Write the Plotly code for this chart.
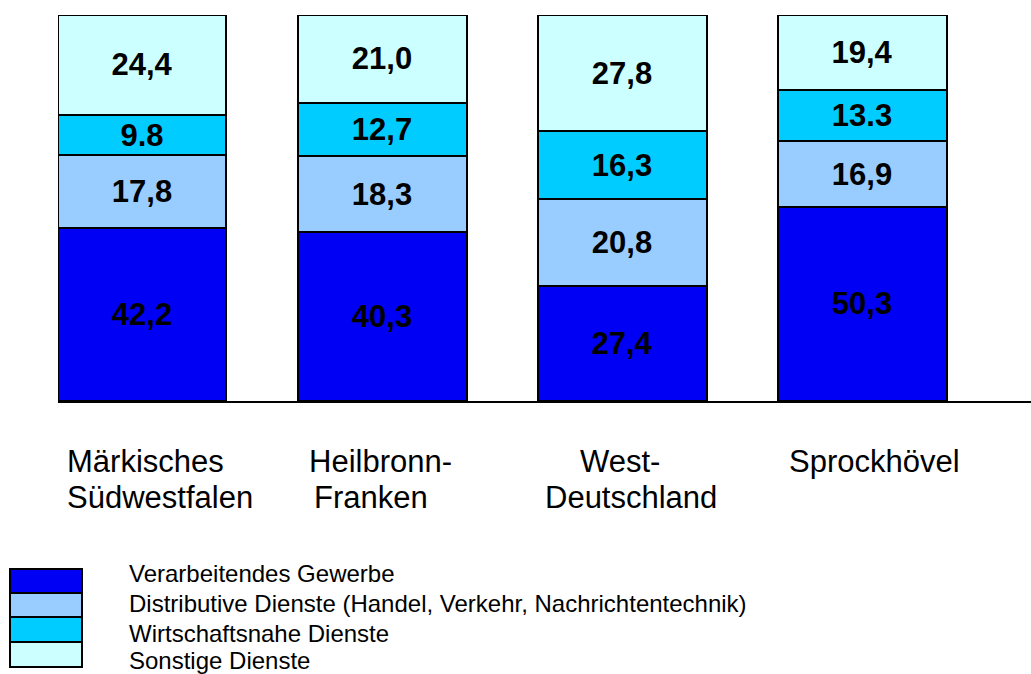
import plotly.graph_objects as go

# ---------------- data ----------------
categories = ["Märkisches Südwestfalen", "Heilbronn-Franken", "West-Deutschland", "Sprockhövel"]
category_lines = [["Märkisches", "Südwestfalen"], ["Heilbronn-", "Franken"],
                  ["West-", "Deutschland"], ["Sprockhövel"]]

series_names = [
    "Verarbeitendes Gewerbe",
    "Distributive Dienste (Handel, Verkehr, Nachrichtentechnik)",
    "Wirtschaftsnahe Dienste",
    "Sonstige Dienste",
]
verarbeitendes = [42.2, 40.3, 27.4, 50.3]
distributive = [17.8, 18.3, 20.8, 16.9]
wirtschaftsnahe = [9.8, 12.7, 16.3, 13.3]
sonstige = [24.4, 21.0, 27.8, 19.4]

labels_verarbeitendes = ["42,2", "40,3", "27,4", "50,3"]
labels_distributive = ["17,8", "18,3", "20,8", "16,9"]
labels_wirtschaftsnahe = ["9.8", "12,7", "16,3", "13.3"]
labels_sonstige = ["24,4", "21,0", "27,8", "19,4"]

colors = ["#0000F5", "#99CCFF", "#00CCFF", "#CCFFFF"]

# ---------------- figure ----------------
W, H = 1031, 674
ML, MR, MT, MB = 58, 0, 15, 273
PW, PH = W - ML - MR, H - MT - MB
FONT = "Liberation Sans, Arial, sans-serif"

fig = go.Figure()
for name, vals, labs, col in zip(
        series_names,
        [verarbeitendes, distributive, wirtschaftsnahe, sonstige],
        [labels_verarbeitendes, labels_distributive, labels_wirtschaftsnahe, labels_sonstige],
        colors):
    fig.add_trace(go.Bar(
        x=categories, y=vals, name=name, text=labs,
        texttemplate="%{text}", textposition="inside", insidetextanchor="middle",
        constraintext="none", textangle=0,
        textfont=dict(family=FONT, size=31, color="black", weight="bold"),
        marker=dict(color=col, line=dict(color="black", width=2)),
        width=0.704, hoverinfo="skip",
    ))


def px_x(p):
    return (p - ML) / PW


def px_y(p):
    return (H - MB - p) / PH


# category labels (left edges in px per line)
line_left = [[65, 65], [307, 312], [578, 543], [787]]
line_center_y = [461, 497]
annotations = []
for lines, lefts in zip(category_lines, line_left):
    for j, (txt, lx) in enumerate(zip(lines, lefts)):
        annotations.append(dict(
            text=txt, xref="paper", yref="paper", x=px_x(lx), y=px_y(line_center_y[j]),
            xanchor="left", yanchor="middle", showarrow=False,
            font=dict(family=FONT, size=31, color="black")))

# custom legend
box_edges = [569, 593, 617, 642, 667]
text_y = [573, 603, 633, 660]
shapes = []
for i, (name, col) in enumerate(zip(series_names, colors)):
    shapes.append(dict(type="rect", xref="paper", yref="paper",
                       x0=px_x(10), x1=px_x(82), y0=px_y(box_edges[i + 1]), y1=px_y(box_edges[i]),
                       fillcolor=col, line=dict(color="black", width=2)))
    annotations.append(dict(
        text=name, xref="paper", yref="paper", x=px_x(127), y=px_y(text_y[i]),
        xanchor="left", yanchor="middle", showarrow=False,
        font=dict(family=FONT, size=24, color="black")))

fig.update_layout(
    barmode="stack", barnorm="percent",
    width=W, height=H,
    margin=dict(l=ML, r=MR, t=MT, b=MB, pad=0),
    paper_bgcolor="white", plot_bgcolor="white",
    showlegend=False,
    font=dict(family=FONT, color="black"),
    xaxis=dict(range=[-0.35, 3.704], showticklabels=False, ticks="", showgrid=False,
               showline=True, linecolor="black", linewidth=2, zeroline=False),
    yaxis=dict(range=[0, 100], visible=False, showgrid=False, zeroline=False),
    annotations=annotations, shapes=shapes,
)

fig.write_html(
    "out.html",
    config={"displayModeBar": False},
    post_script="document.body.style.margin='0';document.body.style.overflow='hidden';",
)
